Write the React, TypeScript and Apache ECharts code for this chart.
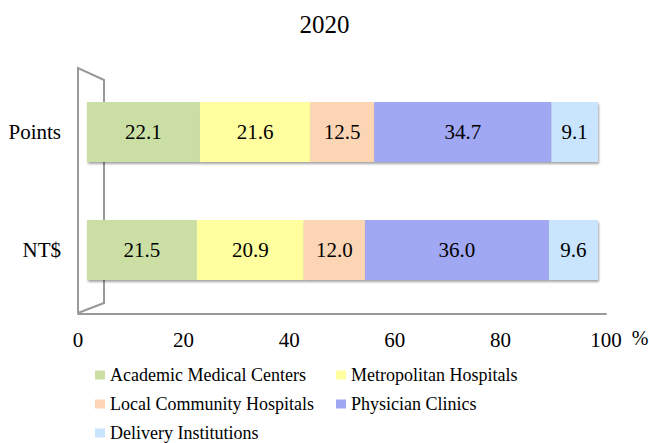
import React, { useEffect, useRef } from "react";
import * as echarts from "echarts";

const categories = ["Points", "NT$"];
const seriesNames = [
  "Academic Medical Centers",
  "Metropolitan Hospitals",
  "Local Community Hospitals",
  "Physician Clinics",
  "Delivery Institutions",
];
const academic = [22.1, 21.5];
const metropolitan = [21.6, 20.9];
const localCommunity = [12.5, 12.0];
const physician = [34.7, 36.0];
const delivery = [9.1, 9.6];
const colors = ["#cbdfa5", "#ffff9f", "#fcd5b4", "#a0a7f3", "#c9e4fd"];
const xTicks = [0, 20, 40, 60, 80, 100];

const FONT = "Liberation Serif";

export default function App() {
  const ref = useRef<HTMLDivElement>(null);
  useEffect(() => {
    if (!ref.current) return;
    const chart = echarts.init(ref.current, undefined, { renderer: "svg" });
    const values = [academic, metropolitan, localCommunity, physician, delivery];
    const series: any[] = values.map((v, i) => ({
      name: seriesNames[i],
      type: "bar",
      stack: "total",
      xAxisIndex: 1,
      yAxisIndex: 1,
      barWidth: 60,
      data: v,
      itemStyle: {
        color: colors[i],
        shadowColor: "rgba(0,0,0,0.35)",
        shadowOffsetY: 2,
        shadowOffsetX: 1,
        shadowBlur: 2,
      },
      label: {
        show: true,
        position: "inside",
        color: "#000",
        fontFamily: FONT,
        fontSize: 21,
        formatter: (p: any) => Number(p.value).toFixed(1),
      },
    }));
    series.push({
      type: "scatter",
      xAxisIndex: 0,
      yAxisIndex: 0,
      data: [],
      silent: true,
    });
    const legendText = { fontFamily: FONT, fontSize: 18, color: "#000", lineHeight: 20 };
    chart.setOption({
      animation: false,
      backgroundColor: "#fff",
      textStyle: { fontFamily: FONT },
      title: {
        text: "2020",
        left: "center",
        top: 7,
        textStyle: { fontFamily: FONT, fontSize: 25, fontWeight: "normal", color: "#000" },
      },
      grid: [
        { left: 78, width: 528, top: 68, height: 246, containLabel: false },
        { left: 87, width: 511, top: 73, height: 236, containLabel: false },
      ],
      xAxis: [
        {
          type: "value",
          gridIndex: 0,
          min: 0,
          max: 100,
          interval: 20,
          axisLine: { show: true, lineStyle: { color: "#999", width: 2 } },
          axisTick: { show: false },
          splitLine: { show: false },
          axisLabel: {
            margin: 15,
            color: "#000",
            fontFamily: FONT,
            fontSize: 21,
            customValues: xTicks,
          },
        },
        {
          type: "value",
          gridIndex: 1,
          min: 0,
          max: 100,
          show: false,
        },
      ],
      yAxis: [
        { type: "value", gridIndex: 0, show: false },
        {
          type: "category",
          gridIndex: 1,
          data: categories,
          inverse: true,
          axisLine: { show: false },
          axisTick: { show: false },
          axisLabel: { margin: 26, color: "#000", fontFamily: FONT, fontSize: 21 },
        },
      ],
      legend: [
        {
          data: [seriesNames[0], seriesNames[2], seriesNames[4]],
          orient: "vertical",
          left: 95,
          top: 365,
          height: 120,
          itemWidth: 10,
          itemHeight: 9,
          itemGap: 9,
          icon: "rect",
          padding: 0,
          textStyle: legendText,
        },
        {
          data: [seriesNames[1], seriesNames[3]],
          orient: "vertical",
          left: 336,
          top: 365,
          height: 120,
          itemWidth: 10,
          itemHeight: 9,
          itemGap: 9,
          icon: "rect",
          padding: 0,
          textStyle: legendText,
        },
      ],
      graphic: [
        {
          type: "polyline",
          shape: { points: [[78, 313], [78, 68], [104, 80], [104, 303], [78, 313]] },
          style: { stroke: "#999", lineWidth: 2, fill: "none" },
          z: 0,
        },
        {
          type: "text",
          x: 640,
          y: 338,
          style: {
            text: "%",
            fontFamily: FONT,
            fontSize: 20,
            fill: "#000",
            align: "center",
            verticalAlign: "middle",
          },
        },
      ],
      series,
    });
    return () => chart.dispose();
  }, []);
  return (
    <div
      ref={ref}
      style={{ position: "absolute", left: 0, top: 0, width: 649, height: 443 }}
    />
  );
}
